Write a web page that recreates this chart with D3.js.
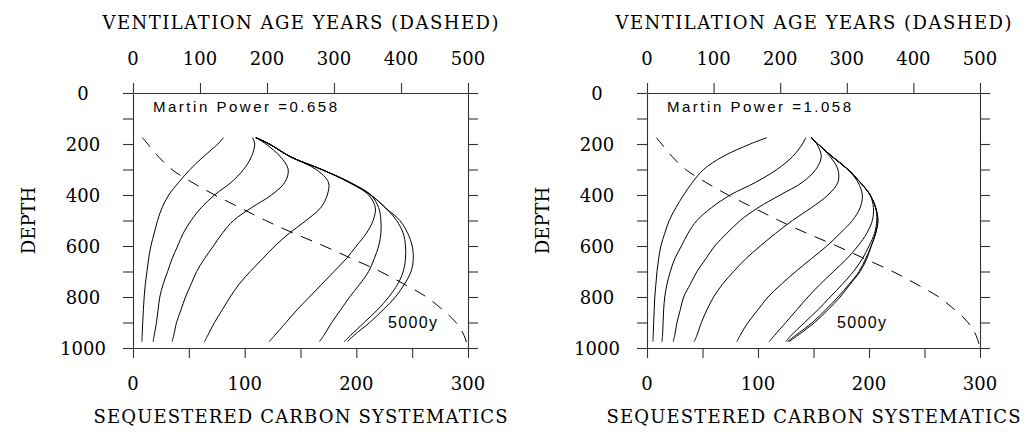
<!DOCTYPE html>
<html>
<head>
<meta charset="utf-8">
<script src="https://cdn.jsdelivr.net/npm/d3@7"></script>
<style>
  html, body { margin: 0; padding: 0; background: #fff; }
  svg { display: block; }
</style>
</head>
<body>
<svg id="chart" width="1028" height="432"></svg>
<script>
// Depth levels (m) at which the carbon profiles are tabulated
const profileDepths = [175, 200, 250, 300, 350, 400, 450, 500, 550, 600, 650, 700, 750, 800, 850, 900, 950, 975];

// Ventilation age (years) versus depth, drawn dashed against the top axis
const ageDepths = [175, 200, 250, 300, 350, 400, 450, 500, 550, 600, 650, 700, 750, 800, 850, 900, 950, 1000];
const ventilationAge = [14, 22, 38, 58, 88, 122, 160, 198, 240, 285, 327, 369, 405, 438, 462, 482, 494, 500];

// Sequestered carbon profiles, Martin power 0.658 (one array per elapsed time)
const carbonLeft = [
  [81, 76, 63, 51, 41, 32, 26, 22, 19, 16, 14, 12.5, 11, 10, 9.3, 8.7, 8.2, 8],
  [107, 109, 106, 99, 88, 73, 61, 52, 45, 40, 35, 31, 27, 24, 22.5, 21, 19, 18],
  [110, 119, 132, 139, 136, 124, 106, 90, 80, 72, 64, 57, 52, 47, 43, 39, 36.5, 35],
  [110, 122, 141, 164, 175, 174, 168, 155, 140, 127, 116, 105, 95, 87, 80, 73, 67, 64],
  [110, 122, 141, 169, 193, 211, 217, 215, 209, 200, 191, 180, 169, 158, 147, 137, 127, 122],
  [110, 122, 141, 169, 194, 213, 220, 222, 222, 220, 216, 211, 203, 194, 186, 178, 171, 167],
  [110, 122, 141, 169, 194, 213, 226, 236, 242, 244, 244, 242, 237, 229, 219, 207, 195, 189],
  [110, 122, 141, 169, 194, 213, 226, 239, 246, 250, 251, 249, 243, 235, 224, 212, 198, 192]
];

// Sequestered carbon profiles, Martin power 1.058
const carbonRight = [
  [108, 93, 68, 51, 41, 33, 26, 20, 16, 12.5, 10.5, 9, 8, 7, 6.5, 6, 5.6, 5.4],
  [143, 140, 131, 117, 98, 75, 58, 45, 37, 31, 25, 21, 18, 16, 15, 14.5, 14, 13.5],
  [148, 153, 157, 152, 140, 120, 100, 84, 72, 61, 53, 45, 39, 33, 30, 27, 25, 23.5],
  [148, 154, 165, 172, 172, 163, 148, 131, 116, 102, 89, 78, 68, 60, 54, 49, 45, 42.5],
  [148, 154, 167, 181, 190, 194, 192, 185, 174, 162, 148, 134, 121, 109, 100, 91, 84, 81],
  [148, 154, 167, 181, 192, 201, 204, 203, 198, 190, 180, 168, 156, 145, 135, 125, 115, 110],
  [148, 154, 167, 181, 192, 201, 206, 207, 205, 200, 194, 186, 176, 165, 154, 142, 130, 125],
  [148, 154, 167, 181, 192, 201, 206, 208, 206, 202, 197, 191, 182, 172, 161, 149, 134, 126.5],
  [148, 154, 167, 181, 192, 201, 206, 208, 206, 202, 198, 192, 183, 174, 163, 151, 136, 128]
];

// Axis tick values and labels
const carbonTicks = [0, 50, 100, 150, 200, 250, 300];
const carbonLabels = [0, 100, 200, 300];
const ageTicks = [0, 100, 200, 300, 400, 500];
const depthTicks = [0, 100, 200, 300, 400, 500, 600, 700, 800, 900, 1000];
const depthLabels = [0, 200, 400, 600, 800, 1000];

const panels = [
  { left: 133, right: 468, power: "Martin  Power  =0.658", curves: carbonLeft, steadyX: 388 },
  { left: 647, right: 980, power: "Martin  Power  =1.058", curves: carbonRight, steadyX: 837 }
];

const plotTop = 93, plotBottom = 348, tickLen = 10;
const serif = "'DejaVu Serif', serif";
const sans = "'Liberation Sans', Arial, sans-serif";
const axisColor = "#333";

const svg = d3.select("#chart");

panels.forEach(p => {
  const g = svg.append("g");
  const x = d3.scaleLinear().domain([0, 300]).range([p.left, p.right]);
  const xAge = d3.scaleLinear().domain([0, 500]).range([p.left, p.right]);
  const y = d3.scaleLinear().domain([0, 1000]).range([plotTop, plotBottom]);
  const mid = (p.left + p.right) / 2;

  // Bottom axis: sequestered carbon
  const ba = g.append("g").attr("transform", `translate(0,${plotBottom})`)
    .call(d3.axisBottom(x).tickValues(carbonTicks).tickSize(tickLen).tickSizeOuter(0).tickFormat(""));
  // Top axis: ventilation age
  const ta = g.append("g").attr("transform", `translate(0,${plotTop})`)
    .call(d3.axisTop(xAge).tickValues(ageTicks).tickSize(tickLen).tickSizeOuter(0).tickFormat(""));
  // Left axis: depth
  const la = g.append("g").attr("transform", `translate(${p.left},0)`)
    .call(d3.axisLeft(y).tickValues(depthTicks).tickSize(tickLen).tickSizeOuter(0).tickFormat(""));
  // Right axis: depth, ticks only
  const ra = g.append("g").attr("transform", `translate(${p.right},0)`)
    .call(d3.axisRight(y).tickValues(depthTicks).tickSize(tickLen).tickSizeOuter(0).tickFormat(""));

  [ba, ta, la, ra].forEach(a => {
    a.select(".domain").attr("stroke", axisColor).attr("stroke-width", 1.1);
    a.selectAll(".tick line").attr("stroke", axisColor).attr("stroke-width", 1.1);
  });

  // Tick labels
  g.selectAll(".lblc").data(carbonLabels).join("text")
    .attr("x", d => x(d)).attr("y", 390)
    .attr("text-anchor", "middle").attr("font-family", serif).attr("font-size", 18)
    .text(d => d);
  g.selectAll(".lbla").data(ageTicks).join("text")
    .attr("x", d => xAge(d)).attr("y", 65)
    .attr("text-anchor", "middle").attr("font-family", serif).attr("font-size", 18)
    .text(d => d);
  g.selectAll(".lbld").data(depthLabels).join("text")
    .attr("x", p.left - 50).attr("y", d => y(d) + 6.5)
    .attr("text-anchor", "middle").attr("font-family", serif).attr("font-size", 18)
    .text(d => d);

  // Axis titles
  g.append("text").attr("x", mid).attr("y", 29)
    .attr("text-anchor", "middle").attr("font-family", serif).attr("font-size", 18)
    .attr("textLength", 396).attr("lengthAdjust", "spacing")
    .text("VENTILATION  AGE  YEARS  (DASHED)");
  g.append("text").attr("x", mid).attr("y", 423)
    .attr("text-anchor", "middle").attr("font-family", serif).attr("font-size", 18)
    .attr("textLength", 414).attr("lengthAdjust", "spacing")
    .text("SEQUESTERED  CARBON  SYSTEMATICS");
  g.append("text")
    .attr("transform", `translate(${p.left - 98},${(plotTop + plotBottom) / 2}) rotate(-90)`)
    .attr("text-anchor", "middle").attr("font-family", serif).attr("font-size", 18)
    .text("DEPTH");

  // In-plot annotations
  g.append("text").attr("x", p.left + 20).attr("y", 112)
    .attr("font-family", sans).attr("font-size", 15)
    .attr("textLength", 184).attr("lengthAdjust", "spacing")
    .text(p.power);
  g.append("text").attr("x", p.steadyX).attr("y", 328)
    .attr("font-family", sans).attr("font-size", 16)
    .attr("textLength", 49).attr("lengthAdjust", "spacing")
    .text("5000y");

  // Carbon profiles
  const line = d3.line()
    .x(d => x(d[0])).y(d => y(d[1]))
    .curve(d3.curveCatmullRom.alpha(0.5));
  g.selectAll(".profile").data(p.curves).join("path")
    .attr("fill", "none").attr("stroke", "#000").attr("stroke-width", 1)
    .attr("d", vals => line(vals.map((v, i) => [v, profileDepths[i]])));

  // Ventilation age, dashed
  const ageLine = d3.line()
    .x(d => xAge(d[0])).y(d => y(d[1]))
    .curve(d3.curveCatmullRom.alpha(0.5));
  g.append("path")
    .attr("fill", "none").attr("stroke", "#000").attr("stroke-width", 1)
    .attr("stroke-dasharray", "12,9")
    .attr("d", ageLine(ventilationAge.map((v, i) => [v, ageDepths[i]])));
});
</script>
</body>
</html>
